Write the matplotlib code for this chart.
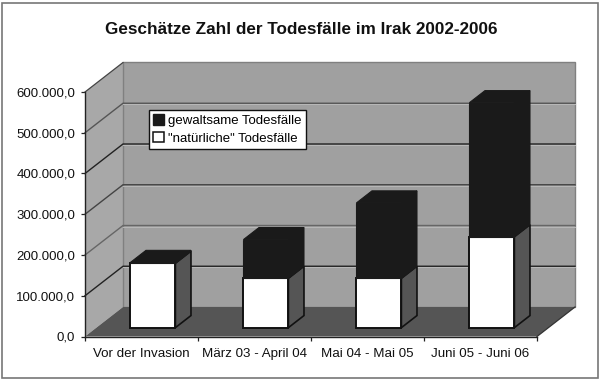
import matplotlib
matplotlib.use('Agg')
import matplotlib.pyplot as plt
from matplotlib.patches import Polygon, Rectangle, Patch

plt.rcParams['font.family'] = ['Liberation Sans', 'DejaVu Sans']

# data
categories = ['Vor der Invasion', 'März 03 - April 04', 'Mai 04 - Mai 05', 'Juni 05 - Juni 06']
natuerlich = [158000, 121000, 121000, 223000]
gewaltsam = [2000, 95000, 185000, 329000]
y_ticks = [0, 100000, 200000, 300000, 400000, 500000, 600000]
y_labels = ['0,0', '100.000,0', '200.000,0', '300.000,0', '400.000,0', '500.000,0', '600.000,0']

W, H = 600, 382
fig = plt.figure(figsize=(W / 100, H / 100), dpi=100, facecolor='white')

# axes is the front plane of the fake 3d box
ax = fig.add_axes([85 / W, 1 - 336.5 / H, 452 / W, 244.5 / H])
ax.set_xlim(0, 4)
ax.set_ylim(0, 600000)
ax.patch.set_visible(False)

# depth of the box in data units
dx = 38 / 113
dy = 72400

def pr(x, y, d=1.0):
    return (x + d * dx, y + d * dy)

def poly(pts, fc, ec='none', lw=0, z=1):
    ax.add_patch(Polygon(pts, closed=True, fc=fc, ec=ec, lw=lw, zorder=z, clip_on=False))

wall = '#a0a0a0'
side_wall = '#a8a8a8'
floor = '#555555'
dark = '#1a1a1a'

# walls and floor
poly([pr(0, 0), pr(0, 0, 0), pr(0, 600000, 0), pr(0, 600000)], side_wall, z=1)
poly([pr(0, 0), pr(4, 0), pr(4, 600000), pr(0, 600000)], wall, '#808080', 1, z=1)
poly([(0, 0), (4, 0), pr(4, 0), pr(0, 0)], floor, z=2)
ax.plot(*zip((4, 0), pr(4, 0)), color='#333333', lw=0.9, zorder=3, clip_on=False)
ax.plot(*zip(pr(0, 600000, 0), pr(0, 600000)), color='#444444', lw=0.9, zorder=3, clip_on=False)

# grid lines, side wall and back wall
grid_colors = {100000: '#222222', 200000: '#666666', 300000: '#444444', 400000: '#222222', 500000: '#555555'}
for t in y_ticks[1:-1]:
    ax.plot(*zip(pr(0, t, 0), pr(0, t), pr(4, t)), color=grid_colors[t], lw=1.0, zorder=2, clip_on=False)
    ax.plot(*zip(pr(0, t - 3000), pr(4, t - 3000)), color='#b8b8b8', lw=0.7, zorder=2, clip_on=False)

# bars
bar_w = 45 / 113
d0, d1 = 0.3, 0.71
for i in range(4):
    x0 = i + 0.5 - bar_w / 2
    x1 = x0 + bar_w
    a = natuerlich[i]
    b = a + gewaltsam[i]
    # lower segment
    poly([pr(x0, 0, d0), pr(x1, 0, d0), pr(x1, a, d0), pr(x0, a, d0)], 'white', '#111111', 1.4, z=5)
    poly([pr(x1, 0, d0), pr(x1, 0, d1), pr(x1, a, d1), pr(x1, a, d0)], floor, '#111111', 1.2, z=4)
    # upper segment
    poly([pr(x0, a, d0), pr(x1, a, d0), pr(x1, b, d0), pr(x0, b, d0)], dark, dark, 0.8, z=5)
    poly([pr(x1, a, d0), pr(x1, a, d1), pr(x1, b, d1), pr(x1, b, d0)], dark, dark, 0.8, z=4)
    poly([pr(x0, b, d0), pr(x1, b, d0), pr(x1, b, d1), pr(x0, b, d1)], dark, dark, 0.8, z=4)

# axis
for s in ['top', 'right']:
    ax.spines[s].set_visible(False)
for s in ['left', 'bottom']:
    ax.spines[s].set_color('#222222')
    ax.spines[s].set_linewidth(1.0)
    ax.spines[s].set_zorder(6)
ax.set_yticks(y_ticks)
ax.set_yticklabels(y_labels, fontsize=9.5, color='#111111')
ax.set_xticks(range(5))
ax.set_xticklabels([])
ax.tick_params(axis='both', length=3, width=0.9, color='#222222', pad=1.5)
ax.tick_params(axis='y', pad=4)
for i, c in enumerate(categories):
    ax.text(i + 0.5, -27000, c, fontsize=9.6, ha='center', va='top', color='#111111')

# legend
handles = [Patch(fc=dark, ec=dark, label='gewaltsame Todesfälle'),
           Patch(fc='white', ec='#111111', lw=1.1, label='"natürliche" Todesfälle')]
leg = ax.legend(handles=handles, loc='upper left', bbox_to_anchor=((149 - 85) / 452, 1 - (110.5 - 92) / 244.5),
                borderaxespad=0, fontsize=9.5, frameon=True, fancybox=False, framealpha=1,
                edgecolor='#111111', facecolor='white', handlelength=0.8, handleheight=0.8,
                handletextpad=0.35, labelspacing=0.4, borderpad=0.3)
leg.get_frame().set_linewidth(1.0)
leg.set_zorder(8)

fig.text(301 / W, 1 - 30 / H, 'Geschätze Zahl der Todesfälle im Irak 2002-2006', fontsize=12.3, fontweight='bold',
         ha='center', va='center', color='#111111')

# outer frame of the picture
fig.add_artist(Rectangle((1.5 / W, 1 - 378 / H), 596.5 / W, 375.5 / H, transform=fig.transFigure,
                         fc='none', ec='#777777', lw=1.2))

fig.savefig('out.png', dpi=100)
